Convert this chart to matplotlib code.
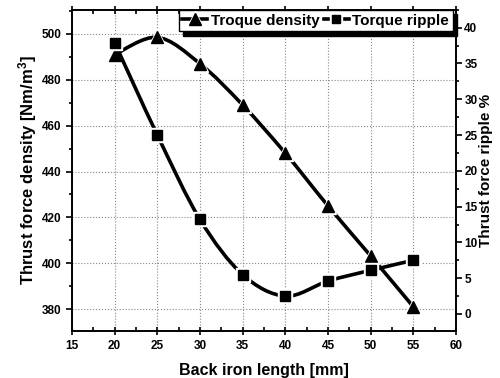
import numpy as np
import matplotlib
matplotlib.use("Agg")
import matplotlib.pyplot as plt
from matplotlib.path import Path
from matplotlib.patches import PathPatch
from matplotlib.lines import Line2D
from matplotlib.ticker import MultipleLocator

plt.rcParams['font.family'] = ['Liberation Sans', 'DejaVu Sans']
plt.rcParams['font.weight'] = 'bold'
plt.rcParams['mathtext.fontset'] = 'custom'
plt.rcParams['mathtext.bf'] = 'Liberation Sans:bold'
plt.rcParams['mathtext.rm'] = 'Liberation Sans:bold'
plt.rcParams['mathtext.default'] = 'bf'

# data
back_iron = [20, 25, 30, 35, 40, 45, 50, 55]
troque_density = [491, 498.5, 487, 469, 448, 425, 403.2, 381]
torque_ripple = [37.9, 25.0, 13.2, 5.5, 2.5, 4.6, 6.1, 7.5]


def smooth_path(xs, ys):
    # Catmull-Rom through the points, written as cubic Bezier segments
    xs = np.asarray(xs, float); ys = np.asarray(ys, float)
    pts = np.column_stack([xs, ys])
    verts = [pts[0]]; codes = [Path.MOVETO]
    n = len(pts)
    for i in range(n - 1):
        p0 = pts[i - 1] if i > 0 else pts[i]
        p1 = pts[i]; p2 = pts[i + 1]
        p3 = pts[i + 2] if i + 2 < n else pts[i + 1]
        c1 = p1 + (p2 - p0) / 6.
        c2 = p2 - (p3 - p1) / 6.
        verts += [c1, c2, p2]; codes += [Path.CURVE4] * 3
    return Path(verts, codes)


fig = plt.figure(figsize=(5, 3.78), dpi=100)
ax = fig.add_axes([0.144, 0.124, 0.768, 0.85])
ax2 = ax.twinx()

lw = 2.6
tri = dict(marker='^', ms=8)
sq = dict(marker='s', ms=6.5)

ax.add_patch(PathPatch(smooth_path(back_iron, troque_density), fc='none', ec='k', lw=lw,
                       transform=ax.transData, zorder=3))
# white halo first, so the line breaks around each marker
ax.plot(back_iron, troque_density, ls='none', marker='^', ms=12, mfc='white', mec='white', zorder=4)
ax.plot(back_iron, troque_density, ls='none', mfc='k', mec='k', zorder=5, **tri)
ax2.add_patch(PathPatch(smooth_path(back_iron, torque_ripple), fc='none', ec='k', lw=lw,
                        transform=ax2.transData, zorder=3))
ax2.plot(back_iron, torque_ripple, ls='none', marker='s', ms=10, mfc='white', mec='white', zorder=4)
ax2.plot(back_iron, torque_ripple, ls='none', mfc='k', mec='k', zorder=5, **sq)

ax.set_xlim(15, 60)
ax.set_ylim(370.4, 510.5)
ax2.set_ylim(-2.4, 42.5)

ax.xaxis.set_major_locator(MultipleLocator(5))
ax.xaxis.set_minor_locator(MultipleLocator(2.5))
ax.yaxis.set_major_locator(MultipleLocator(20))
ax.yaxis.set_minor_locator(MultipleLocator(10))
ax2.yaxis.set_major_locator(MultipleLocator(5))
ax2.yaxis.set_minor_locator(MultipleLocator(2.5))

ax.grid(True, which='major', color='#888888', ls=':', lw=0.8)
ax.set_axisbelow(True)

ax.tick_params(axis='both', which='both', labelsize=8.5, width=1.2, top=True)
ax.tick_params(axis='x', which='major', direction='inout', length=6)
ax.tick_params(axis='x', which='minor', direction='in', length=3)
ax.tick_params(axis='y', which='major', direction='out', length=4)
ax.tick_params(axis='y', which='minor', direction='out', length=2.5)
ax2.tick_params(axis='y', which='major', labelsize=8.5, direction='out', length=4, width=1.2, pad=2)
ax2.tick_params(axis='y', which='minor', direction='out', length=2.5, width=1.2)
for a in (ax, ax2):
    for s in a.spines.values():
        s.set_linewidth(1.2)
    for lab in a.get_xticklabels() + a.get_yticklabels():
        lab.set_fontweight('bold')

ax.set_xlabel('Back iron length [mm]', fontsize=11.5, fontweight='bold', labelpad=8)
ax.set_ylabel(r'Thrust force density [Nm/m$^3$]', fontsize=12, fontweight='bold', labelpad=2)
ax2.set_ylabel('Thrust force ripple %', fontsize=11, fontweight='bold', labelpad=1)

handles = [
    (Line2D([], [], color='k', lw=lw, marker='^', ms=11, mfc='white', mec='white'),
     Line2D([], [], color='none', **tri, mfc='k', mec='k')),
    (Line2D([], [], color='k', lw=lw, marker='s', ms=9, mfc='white', mec='white'),
     Line2D([], [], color='none', marker='s', ms=6, mfc='k', mec='k')),
]
leg = ax2.legend(handles, ['Troque density', 'Torque ripple'], ncol=2, loc='upper right',
                 bbox_to_anchor=(0.992, 1.0), borderaxespad=0, fontsize=11, frameon=True,
                 fancybox=False, handlelength=1.6, handletextpad=0.25, columnspacing=0.3,
                 borderpad=0.25, shadow={'color': 'k', 'alpha': 1, 'ox': 3, 'oy': -3})
leg.get_frame().set_edgecolor('k')
leg.get_frame().set_linewidth(1.0)
for t in leg.get_texts():
    t.set_fontweight('bold')
leg.set_zorder(10)

fig.savefig('out.png', dpi=100)
